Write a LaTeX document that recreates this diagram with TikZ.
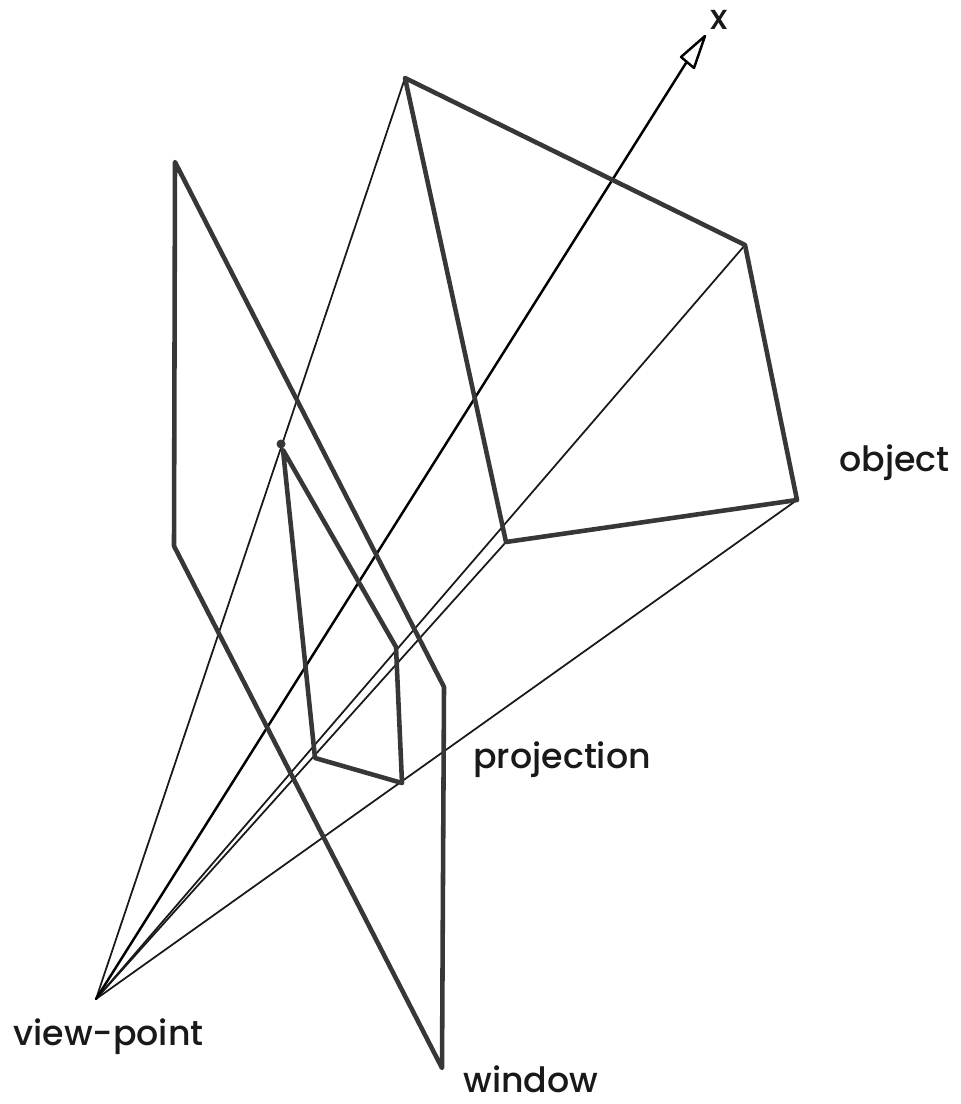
\documentclass[tikz,border=0pt]{standalone}
\usepackage{fontspec}
\setmainfont{Poppins}[UprightFont=* Medium]
\usetikzlibrary{positioning}

\begin{document}
\begin{tikzpicture}[x=0.02cm, y=-0.02cm, line cap=round, line join=round]

		% Farben definieren
		\definecolor{edgegray}{RGB}{55,55,55}
		\definecolor{raygray}{RGB}{25,25,25}

		\tikzset{
			edge/.style={draw=edgegray, line width=2.6pt},
			ray/.style={draw=raygray, line width=1pt},
			axisline/.style={draw=black, line width=1.4pt},
			caption/.style={font=\fontsize{19.8}{22}\selectfont, text=black!90, inner sep=0pt, anchor=base west}
		}

		\useasboundingbox (0,0) rectangle (960,1104);

		% --- Punkte ---
		\coordinate (vp) at (96,999);
		\coordinate (w1) at (175,162);
		\coordinate (w2) at (444,687);
		\coordinate (w3) at (442,1068);
		\coordinate (w4) at (174,546);
		\coordinate (o1) at (405,78);
		\coordinate (o2) at (745,245);
		\coordinate (o3) at (797,500);
		\coordinate (o4) at (506,542);
		\coordinate (p0) at (281,444);
		\coordinate (p1) at (283,450);
		\coordinate (p2) at (396,647);
		\coordinate (p3) at (402,783);
		\coordinate (p4) at (315,758);
		\coordinate (xbase) at (686,63);
		\coordinate (xtip) at (705,36);
		\coordinate (xleft) at (681,57);
		\coordinate (xright) at (694,68);

		% Strahlen
		\draw[ray] (vp) -- (o1);
		\draw[ray] (vp) -- (o4);
		\draw[ray] (vp) -- (o2);
		\draw[ray] (vp) -- (o3);
		\fill[edgegray] (p0) circle (4.5);

		% Achse
		\draw[axisline] (vp) -- (xbase);
		\draw[axisline] (xleft) -- (xtip) -- (xright) -- cycle;

		% Flaechen
		\draw[edge] (w1) -- (w2) -- (w3) -- (w4) -- cycle;
		\draw[edge] (o1) -- (o2) -- (o3) -- (o4) -- cycle;
		\draw[edge] (p1) -- (p2) -- (p3) -- (p4) -- cycle;

		% Beschriftung
		\node[caption] (xlabel) at (710,30) {x};
		\node[caption] (objectlabel) at (839,471) {object};
		\node[caption] (projectionlabel) at (473,768) {projection};
		\node[caption] (viewlabel) at (13,1045) {view-point};
		\node[caption] (windowlabel) at (463,1092) {window};

	\end{tikzpicture}
\end{document}
